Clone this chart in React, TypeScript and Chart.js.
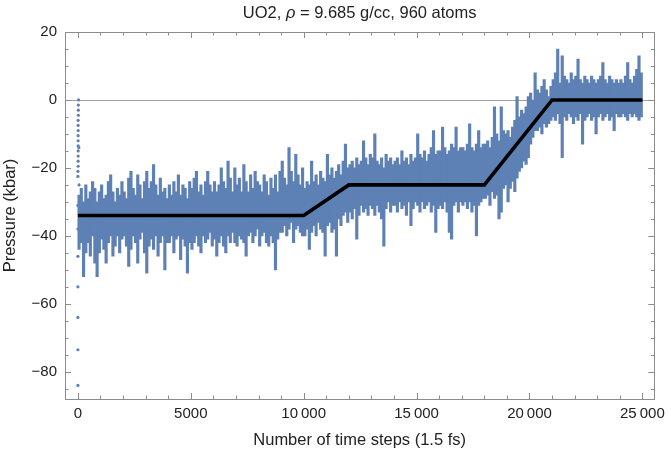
import { useEffect, useRef } from "react";
import { Chart, registerables } from "chart.js";

Chart.register(...registerables);

// ---- data ----
// start-up transient, single samples
const startupSteps = [0, 0, 0, 0, 0, 0, 0, 0, 0, 10, 10, 10, 10, 10, 10, 10, 10, 10, 10, 20, 20, 20, 30, 40, 50];
const startupPressure = [-84, -73.5, -64, -55, -46, -38, -31, -22.5, -21, -19.5, -18, -16.5, -15, -13.5, -12, -10.5, -9, -7.5, -6, -4.5, -3, -1.5, 0, -14, -25];

// range (min / max) of the sampled pressure in each 100-step window, 0..25000
const windowSize = 100;
const pressureHigh = [
  -28, -26, -30, -25, -29, -27, -24, -26, -30, -27,
  -25, -29, -28, -24, -22, -27, -30, -26, -28, -24,
  -27, -29, -23, -21, -26, -28, -22, -25, -29, -24,
  -21, -26, -24, -19, -25, -28, -23, -27, -26, -29,
  -25, -28, -24, -27, -22, -28, -25, -26, -29, -24,
  -26, -23, -21, -27, -25, -28, -24, -21, -25, -27,
  -24, -27, -25, -20, -24, -26, -18, -23, -27, -20,
  -25, -23, -27, -19, -24, -27, -22, -26, -21, -24,
  -25, -27, -22, -24, -28, -23, -26, -22, -27, -21,
  -18, -23, -25, -14, -21, -24, -16, -22, -25, -20,
  -26, -24, -25, -18, -24, -22, -25, -21, -23, -24,
  -16, -22, -20, -23, -21, -19, -22, -18, -13, -20,
  -19, -18, -20, -17, -19, -18, -12, -17, -19, -16,
  -17, -10, -18, -19, -17, -20, -16, -18, -17, -19,
  -18, -17, -19, -15, -18, -17, -19, -16, -18, -17,
  -10, -16, -17, -15, -18, -16, -14, -9, -16, -15,
  -15, -8, -14, -16, -15, -13, -14, -8, -15, -14,
  -14, -15, -13, -7, -14, -15, -13, -9, -14, -13,
  -13, -12, -14, -11, -2, -10, -12, -2, -9, -10,
  -9, -11, -8, -6, 1, -5, -3, -4, -2, 1,
  2, 0, 8, 3, 2, 4, 6, 3, 1, 4,
  6, 8, 15, 5, 13, 7, 6, 5, 8, 6,
  7, 12, 6, 5, 7, 6, 5, 7, 6, 5,
  6, 7, 11, 6, 5, 7, 6, 5, 6, 5,
  6, 5, 7, 11, 6, 5, 7, 9, 13, 8,
];
const pressureLow = [
  -44, -42, -52, -45, -42, -46, -40, -48, -52, -45,
  -41, -44, -48, -42, -40, -46, -43, -40, -45, -41,
  -40, -43, -49, -44, -40, -42, -48, -41, -39, -45,
  -51, -43, -41, -44, -40, -46, -42, -40, -50, -42,
  -42, -40, -45, -41, -40, -47, -41, -43, -51, -42,
  -44, -42, -40, -43, -45, -40, -42, -41, -39, -43,
  -41, -46, -42, -40, -43, -45, -40, -42, -39, -42,
  -43, -40, -41, -42, -46, -40, -39, -42, -40, -38,
  -43, -40, -39, -42, -43, -40, -42, -50, -41, -39,
  -39, -37, -40, -38, -36, -42, -38, -37, -39, -40,
  -40, -38, -44, -39, -37, -40, -36, -38, -39, -46,
  -37, -36, -39, -38, -46, -35, -37, -34, -33, -36,
  -33, -35, -32, -41, -34, -31, -33, -32, -34, -31,
  -32, -34, -31, -33, -35, -43, -32, -30, -33, -31,
  -31, -33, -30, -32, -31, -34, -30, -37, -32, -30,
  -31, -33, -30, -32, -31, -30, -33, -31, -39, -32,
  -31, -32, -30, -33, -39, -41, -31, -30, -33, -30,
  -31, -30, -32, -30, -33, -31, -40, -31, -30, -29,
  -29, -28, -31, -27, -29, -28, -35, -33, -26, -25,
  -30, -26, -24, -27, -23, -21, -20, -18, -19, -17,
  -13, -11, -9, -9, -8, -10, -7, -8, -7, -6,
  -5, -6, -4, -7, -17, -5, -6, -4, -5, -7,
  -5, -6, -4, -13, -6, -5, -4, -6, -5, -10,
  -5, -4, -6, -5, -4, -6, -5, -9, -4, -5,
  -5, -4, -5, -6, -4, -5, -4, -5, -6, -5,
];

const targetSteps = [0, 10000, 12000, 18000, 21000, 25000];
const targetPressure = [-34, -34, -25, -25, 0, 0];

const xTickValues = [0, 5000, 10000, 15000, 20000, 25000];
const xTickLabels = ["0", "5000", "10\u2009000", "15\u2009000", "20\u2009000", "25\u2009000"];
const yTickValues = [-80, -60, -40, -20, 0, 20];
const yTickLabels = ["\u221280", "\u221260", "\u221240", "\u221220", "0", "20"];
const xMinorStep = 1000;
const yMinorStep = 5;

const titleParts: { text: string; italic: boolean }[] = [
  { text: "UO2, ", italic: false },
  { text: "\u03c1", italic: true },
  { text: " = 9.685 g/cc, 960 atoms", italic: false },
];
const xTitle = "Number of time steps (1.5 fs)";
const yTitle = "Pressure (kbar)";

const FONT = "'Liberation Sans', Arial, sans-serif";
const BLUE = "#5E81B5";
const FRAME = "#8c8c8c";
const TICK_SIZE = 15;
const LABEL_SIZE = 16.5;

const framePlugin = {
  id: "mmaFrame",
  beforeDatasetsDraw(chart: any) {
    const { ctx, chartArea: a, scales } = chart;
    const y0 = Math.round(scales.y.getPixelForValue(0)) + 0.5;
    ctx.save();
    ctx.strokeStyle = "#a0a0a0";
    ctx.lineWidth = 1;
    ctx.beginPath();
    ctx.moveTo(a.left, y0);
    ctx.lineTo(a.right, y0);
    ctx.stroke();
    ctx.restore();
  },
  afterDraw(chart: any) {
    const { ctx, chartArea: a, scales } = chart;
    const xs = scales.x;
    const ys = scales.y;
    ctx.save();
    ctx.strokeStyle = FRAME;
    ctx.lineWidth = 1;
    ctx.strokeRect(Math.round(a.left) + 0.5, Math.round(a.top) + 0.5, Math.round(a.right - a.left), Math.round(a.bottom - a.top));
    ctx.beginPath();
    for (let v = 0; v <= 25000; v += xMinorStep) {
      const len = v % 5000 === 0 ? 6 : 3.5;
      const px = Math.round(xs.getPixelForValue(v)) + 0.5;
      ctx.moveTo(px, a.bottom);
      ctx.lineTo(px, a.bottom - len);
      ctx.moveTo(px, a.top);
      ctx.lineTo(px, a.top + len);
    }
    for (let v = -85; v <= 20; v += yMinorStep) {
      const len = v % 20 === 0 ? 6 : 3.5;
      const py = Math.round(ys.getPixelForValue(v)) + 0.5;
      ctx.moveTo(a.left, py);
      ctx.lineTo(a.left + len, py);
      ctx.moveTo(a.right, py);
      ctx.lineTo(a.right - len, py);
    }
    ctx.stroke();

    // title with italic rho
    ctx.fillStyle = "#222";
    ctx.textBaseline = "middle";
    ctx.textAlign = "left";
    const fontFor = (it: boolean) => `${it ? "italic " : ""}${LABEL_SIZE}px ${FONT}`;
    let total = 0;
    for (const p of titleParts) {
      ctx.font = fontFor(p.italic);
      total += ctx.measureText(p.text).width;
    }
    let x = (a.left + a.right) / 2 - total / 2;
    for (const p of titleParts) {
      ctx.font = fontFor(p.italic);
      ctx.fillText(p.text, x, 13);
      x += ctx.measureText(p.text).width;
    }
    ctx.restore();
  },
};

export default function App() {
  const ref = useRef<HTMLCanvasElement | null>(null);

  useEffect(() => {
    document.body.style.margin = "0";
    const canvas = ref.current;
    if (!canvas) return;

    const windows = pressureHigh.map((h, i) => ({
      x: i * windowSize + windowSize / 2,
      y: [pressureLow[i], h],
    }));
    const startup = startupPressure.map((p, i) => ({ x: startupSteps[i], y: p }));
    const target = targetPressure.map((p, i) => ({ x: targetSteps[i], y: p }));

    const chart = new Chart(canvas, {
      type: "line",
      data: {
        datasets: [
          {
            type: "line",
            data: target,
            borderColor: "#000",
            borderWidth: 3.6,
            pointRadius: 0,
            order: 0,
          },
          {
            type: "bar",
            data: windows as any,
            backgroundColor: BLUE,
            borderWidth: 0,
            barThickness: 2.5,
            grouped: false,
            order: 1,
          },
          {
            type: "line",
            data: startup,
            showLine: false,
            borderColor: BLUE,
            backgroundColor: BLUE,
            pointRadius: 1.6,
            pointBorderWidth: 0,
            order: 2,
          },
        ] as any,
      },
      options: {
        animation: false,
        responsive: true,
        maintainAspectRatio: false,
        layout: { padding: { top: 32, right: 13, left: 0, bottom: 0 } },
        plugins: {
          legend: { display: false },
          tooltip: { enabled: false },
          title: { display: false },
        },
        scales: {
          x: {
            type: "linear",
            min: -572,
            max: 25528,
            offset: false,
            grid: { display: false, drawTicks: false },
            border: { display: false },
            afterFit: (s: any) => {
              s.height = 59;
            },
            afterBuildTicks: (s: any) => {
              s.ticks = xTickValues.map((v) => ({ value: v }));
            },
            ticks: {
              padding: 6,
              color: "#222",
              font: { family: FONT, size: TICK_SIZE },
              maxRotation: 0,
              autoSkip: false,
              callback: (v: any) => {
                const i = xTickValues.indexOf(Number(v));
                return i >= 0 ? xTickLabels[i] : "";
              },
            },
            title: {
              display: true,
              text: xTitle,
              color: "#222",
              font: { family: FONT, size: LABEL_SIZE },
              padding: { top: 0, bottom: 8 },
            },
          },
          y: {
            type: "linear",
            min: -88,
            max: 20,
            grid: { display: false, drawTicks: false },
            border: { display: false },
            afterFit: (s: any) => {
              s.width = 65;
            },
            afterBuildTicks: (s: any) => {
              s.ticks = yTickValues.map((v) => ({ value: v }));
            },
            ticks: {
              padding: 8,
              color: "#222",
              font: { family: FONT, size: TICK_SIZE },
              autoSkip: false,
              callback: (v: any) => {
                const i = yTickValues.indexOf(Number(v));
                return i >= 0 ? yTickLabels[i] : "";
              },
            },
            title: {
              display: true,
              text: yTitle,
              color: "#222",
              font: { family: FONT, size: LABEL_SIZE },
              padding: { top: 1, bottom: 0 },
            },
          },
        },
      },
      plugins: [framePlugin],
    });

    return () => chart.destroy();
  }, []);

  return (
    <div style={{ position: "relative", width: "671px", height: "458px" }}>
      <canvas ref={ref} />
    </div>
  );
}
